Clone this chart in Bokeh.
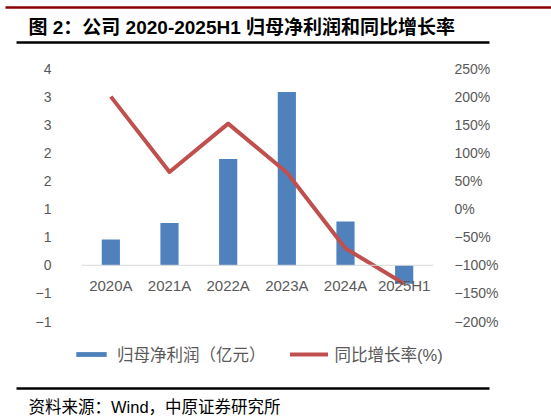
import numpy as np
from bokeh.plotting import figure
from bokeh.layouts import column
from bokeh.models import (FactorRange, Range1d, LinearAxis, FixedTicker, CustomJSTickFormatter,
                          Span, Legend, LegendItem, ColumnDataSource)
from bokeh.core.properties import value
from bokeh.embed import file_html
from bokeh.resources import INLINE

# ---- data ----
categories = ["2020A", "2021A", "2022A", "2023A", "2024A", "2025H1"]
net_profit = [0.46, 0.75, 1.89, 3.08, 0.78, -0.33]          # 归母净利润（亿元）
yoy_growth = [200, 66, 152, 65, -70, -133]                   # 同比增长率(%)
left_ticks = [-1.0, -0.5, 0.0, 0.5, 1.0, 1.5, 2.0, 2.5, 3.0, 3.5]
right_ticks = [-200, -150, -100, -50, 0, 50, 100, 150, 200, 250]
title_text = "图 2：公司 2020-2025H1 归母净利润和同比增长率"
source_text = "资料来源：Wind，中原证券研究所"
bar_label = "归母净利润（亿元）"
line_label = "同比增长率(%)"

FONT = value("Liberation Sans, Noto Sans CJK SC")
FONT_S = "Liberation Sans, Noto Sans CJK SC"
GRAY = "#595959"
BLUE = "#4F81BD"
RED = "#C0504D"
W = 551


def panel(h):
    f = figure(width=W, height=h, x_range=Range1d(0, W), y_range=Range1d(h, 0),
               x_axis_type=None, y_axis_type=None, toolbar_location=None,
               output_backend="svg", min_border=0, outline_line_color=None,
               frame_align=False)
    f.grid.visible = False
    return f


# ---- header ----
hdr = panel(48)
hdr.segment(x0=[5], y0=[7], x1=[W], y1=[7], line_color="#8B0000", line_width=2.5)
hdr.segment(x0=[16], y0=[42], x1=[489], y1=[42], line_color="black", line_width=2.5)
hdr.text(x=[28], y=[27], text=[title_text], text_font=FONT, text_font_size="19px",
         text_font_style="bold", text_baseline="middle", text_align="left", text_color="black")

# ---- main chart ----
p = figure(width=W, height=288, x_range=FactorRange(*categories, range_padding=0),
           y_range=Range1d(left_ticks[0], left_ticks[-1]),
           toolbar_location=None, output_backend="svg",
           min_border_left=81, min_border_right=118, min_border_top=20, min_border_bottom=15,
           outline_line_color=None, frame_align=False)
p.xaxis.visible = False
p.grid.visible = False
p.extra_y_ranges = {"pct": Range1d(right_ticks[0], right_ticks[-1])}

yl = p.yaxis[0]
yl.ticker = FixedTicker(ticks=left_ticks)
yl.formatter = CustomJSTickFormatter(code="""
const r = Math.sign(tick) * Math.round(Math.abs(tick));
return r < 0 ? "\\u2212" + Math.abs(r) : String(Math.abs(r));
""")
yr = LinearAxis(y_range_name="pct", ticker=FixedTicker(ticks=right_ticks),
                formatter=CustomJSTickFormatter(code="""
return (tick < 0 ? "\\u2212" : "") + Math.abs(tick) + "%";
"""))
p.add_layout(yr, "right")
for ax, st in ((yl, 24), (yr, 15)):
    ax.axis_line_color = None
    ax.major_tick_line_color = None
    ax.minor_tick_line_color = None
    ax.major_label_text_font = FONT_S
    ax.major_label_text_font_size = "14px"
    ax.major_label_text_color = GRAY
    ax.major_label_standoff = st

p.add_layout(Span(location=0, dimension="width", line_color="#D9D9D9", line_width=1))

src = ColumnDataSource(dict(cat=categories, profit=net_profit, growth=yoy_growth,
                            zero=[0] * len(categories)))
bars = p.vbar(x="cat", top="profit", width=0.31, source=src, fill_color=BLUE,
              line_color=None)
ln = p.line(x="cat", y="growth", source=src, y_range_name="pct", line_color=RED,
            line_width=4, line_join="round")
p.text(x="cat", y="zero", text="cat", source=src, text_font=FONT, text_font_size="15px",
       text_color=GRAY, text_align="center", text_baseline="middle", y_offset=20)

# ---- footer: legend + source ----
ftr = panel(84)
leg_bar = ftr.vbar(x=[np.nan], top=[np.nan], width=1, fill_color=BLUE, line_color=None)
leg_line = ftr.line(x=[np.nan], y=[np.nan], line_color=RED, line_width=4, line_cap="round")
legend = Legend(items=[LegendItem(label=bar_label, renderers=[leg_bar]),
                       LegendItem(label=line_label, renderers=[leg_line])],
                orientation="horizontal", location=(72, 54), padding=0, margin=0,
                spacing=24, glyph_width=38, glyph_height=6, label_standoff=7,
                label_height=16, border_line_color=None, background_fill_alpha=0,
                label_text_font=FONT_S, label_text_font_size="16.5px",
                label_text_color=GRAY)
ftr.add_layout(legend, "center")
ftr.segment(x0=[16], y0=[52], x1=[489], y1=[52], line_color="black", line_width=2.5)
ftr.text(x=[28], y=[70], text=[source_text], text_font=FONT, text_font_size="16.5px",
         text_baseline="middle", text_align="left", text_color="black")

layout = column(hdr, p, ftr, spacing=0)
open("out.html", "w").write(file_html(layout, INLINE))
